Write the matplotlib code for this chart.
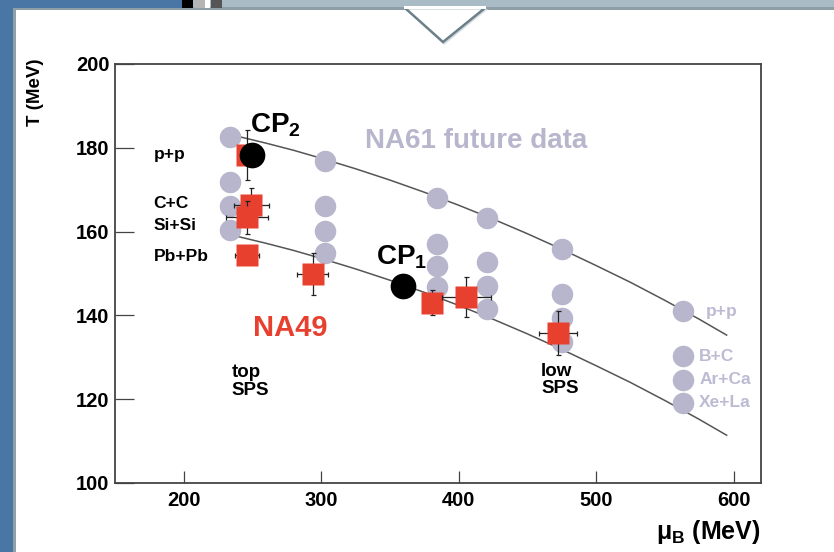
import matplotlib
matplotlib.use("Agg")
import matplotlib.pyplot as plt
from matplotlib.patches import Rectangle, Polygon

plt.rcParams['font.family'] = ['Liberation Sans', 'DejaVu Sans']
plt.rcParams['mathtext.fontset'] = 'custom'
plt.rcParams['mathtext.rm'] = 'Liberation Sans'
plt.rcParams['mathtext.bf'] = 'Liberation Sans:bold'
plt.rcParams['mathtext.it'] = 'Liberation Sans:italic'

# NA61 planned scan (grey circles)
na61_mu = [234, 234, 234, 234, 303, 303, 303, 303, 384, 384, 384, 384,
           421, 421, 421, 421, 475, 475, 475, 475, 563, 563, 563, 563]
na61_T = [182.6, 171.9, 166.2, 160.5, 176.9, 166.2, 160.2, 155.0,
          167.9, 157.1, 151.9, 146.7, 163.3, 152.7, 147.1, 141.6,
          155.9, 145.1, 139.3, 133.6, 141.0, 130.2, 124.7, 119.1]
na61_labels = ["p+p", "B+C", "Ar+Ca", "Xe+La"]

# NA49 freeze-out points (red squares)
na49_mu = [246.4, 249.3, 246.1, 246.1, 293.7, 380.6, 405.6, 472.2]
na49_T = [178.2, 166.4, 163.4, 154.5, 149.9, 143.0, 144.4, 135.8]
na49_mu_err = [0, 13, 15, 9, 11, 6, 17.6, 13.8]
na49_T_err = [6, 4, 4, 1.5, 5, 3, 4.8, 5.2]
na49_labels = ["p+p", "C+C", "Si+Si", "Pb+Pb"]
na49_label_T = [178.5, 166.6, 161.5, 154.0]

# critical points
cp_mu = [359.5, 249.8]
cp_T = [146.9, 178.2]
cp_labels = [r"CP$_\mathbf{1}$", r"CP$_\mathbf{2}$"]

# freeze-out lines
curve_mu = [236, 260, 280, 300, 325, 350, 375, 400, 425, 450, 475, 500,
            525, 550, 575, 595]
curve_upper_T = [183.0, 181.1, 179.4, 177.5, 175.0, 172.3, 169.4, 166.3,
                 163.0, 159.5, 155.8, 151.9, 147.9, 143.6, 139.1, 135.3]
curve_lower_T = [159.1, 157.2, 155.5, 153.6, 151.1, 148.4, 145.5, 142.4,
                 139.1, 135.6, 131.9, 128.0, 124.0, 119.7, 115.2, 111.4]

x_ticks = [200, 300, 400, 500, 600]
y_ticks = [100, 120, 140, 160, 180, 200]

W, H = 834, 552
fig = plt.figure(figsize=(W / 100, H / 100), dpi=100)
fig.patch.set_facecolor("white")

# slide frame drawn in pixel coordinates
bg = fig.add_axes([0, 0, 1, 1], zorder=-5)
bg.set_xlim(0, W)
bg.set_ylim(H, 0)
bg.axis("off")
blue = "#4a76a6"
bar = "#a9bbc4"
bg.add_patch(Rectangle((0, 0), W, 8, color=bar, lw=0))
bg.add_patch(Rectangle((0, 7), W, 2.5, color="#8d9ea7", lw=0))
bg.add_patch(Rectangle((0, 0), 182, 8, color=blue, lw=0))
bg.add_patch(Rectangle((182, 0), 11, 8, color="black", lw=0))
bg.add_patch(Rectangle((194, 0), 11, 8, color="#b5b5b5", lw=0))
bg.add_patch(Rectangle((205, 0), 5, 8, color="white", lw=0))
bg.add_patch(Rectangle((211, 0), 11, 8, color="#555555", lw=0))
bg.add_patch(Rectangle((0, 0), 13, H, color=blue, lw=0))
bg.add_patch(Rectangle((13, 9), 3, H, color="#8fa0a8", lw=0))
bg.add_patch(Polygon([[407, 9], [488, 9], [444, 45]], closed=True,
                     facecolor="#d6dcdf", edgecolor="none", lw=0))
bg.add_patch(Polygon([[405, 8], [485, 8], [443, 42]], closed=True,
                     facecolor="white", edgecolor="#6b8089", lw=1.8))
bg.add_patch(Rectangle((404, 6), 82, 3, color="white", lw=0))

ax = fig.add_axes([115 / W, 69 / H, 646 / W, 419 / H])
ax.set_xlim(150, 620)
ax.set_ylim(100, 200)

ax.plot(curve_mu, curve_upper_T, color="#555555", lw=1.1, zorder=1)
ax.plot(curve_mu, curve_lower_T, color="#555555", lw=1.1, zorder=1)

ax.plot(na61_mu, na61_T, "o", ms=15.5, color="#b8b6cc", mec="none", zorder=2)

for i in range(len(na49_mu)):
    z = 3 + 0.01 * i
    ax.errorbar(na49_mu[i], na49_T[i], xerr=na49_mu_err[i], yerr=na49_T_err[i],
                fmt="none", ecolor="#222222", elinewidth=0.9, capsize=1.8,
                capthick=0.9, zorder=z)
    ax.plot(na49_mu[i], na49_T[i], "s", ms=15.5, color="#e8402f", mec="none",
            zorder=z + 0.005)

ax.plot(cp_mu, cp_T, "o", ms=18.5, color="black", mec="none", zorder=5)

bold = dict(fontweight="bold")
ax.text(cp_mu[0] - 1, cp_T[0] + 3.6, cp_labels[0], fontsize=20, ha="center",
        va="bottom", **bold)
ax.text(cp_mu[1] + 17, cp_T[1] + 3.8, cp_labels[1], fontsize=20, ha="center",
        va="bottom", **bold)

ax.text(331.7, 181.7, "NA61 future data", fontsize=20, color="#b8b6cc",
        ha="left", va="center", **bold)
ax.text(250.3, 136.9, "NA49", fontsize=21, color="#e8402f", ha="left",
        va="center", **bold)
ax.text(235, 124.2, "top\nSPS", fontsize=13.5, ha="left", va="center",
        linespacing=1.05, **bold)
ax.text(460, 124.6, "low\nSPS", fontsize=13.5, ha="left", va="center",
        linespacing=1.05, **bold)

for lab, t in zip(na49_labels, na49_label_T):
    ax.text(178, t, lab, fontsize=12.5, ha="left", va="center", **bold)

gx = [580, 575, 575, 575]
for lab, t, x in zip(na61_labels, na61_T[-4:], gx):
    ax.text(x, t, lab, fontsize=12.5, color="#bdbbd3", ha="left", va="center",
            **bold)

ax.set_xticks(x_ticks)
ax.set_yticks(y_ticks)
ax.tick_params(axis="x", direction="in", length=8.5, width=0.9, pad=6,
               labelsize=14.5, color="#444444")
ax.tick_params(axis="y", direction="in", length=14, width=0.9, pad=4,
               labelsize=14.5, color="#444444")
for lab in ax.get_xticklabels() + ax.get_yticklabels():
    lab.set_fontweight("bold")
for s in ax.spines.values():
    s.set_color("#444444")
    s.set_linewidth(1.3)

fig.text(35 / W, 1 - 59 / H, "T (MeV)", rotation=90, ha="center", va="top",
         fontsize=13.5, **bold)
ax.text(1.0, -0.083, r"$\mathregular{\mu}_{\mathbf{B}}$ (MeV)", transform=ax.transAxes,
        ha="right", va="top", fontsize=18, **bold)

fig.savefig("out.png", dpi=100)
